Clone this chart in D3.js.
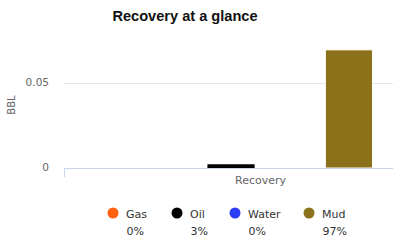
<!DOCTYPE html>
<html><head><meta charset="utf-8">
<script src="https://cdn.jsdelivr.net/npm/d3@7"></script>
<style>body{margin:0;background:#fff}svg{display:block}</style>
</head><body><svg id="c" width="393" height="243"></svg>
<script>
const categories = ["Recovery"];
const seriesNames = ["Gas", "Oil", "Water", "Mud"];
const seriesValues = [0, 0.0022, 0, 0.0695];
const seriesColors = ["#ff6010", "#000000", "#2b3cf5", "#8b7119"];
const percentLabels = ["0%", "3%", "0%", "97%"];
const yTicks = [0, 0.05];

(function () {
const svg = d3.select("#c");
const font = "'DejaVu Sans', Verdana, sans-serif";
const left = 64, right = 457, bottom = 168;

const y = d3.scaleLinear().domain([0, 0.05]).range([bottom, 83]);
const x0 = d3.scaleBand().domain(categories).range([left, right]).paddingInner(0).paddingOuter(0.333);
const x1 = d3.scaleBand().domain(seriesNames).range([0, x0.bandwidth()]).paddingInner(0.2).paddingOuter(0.1);

// title
svg.append("text").attr("x", 185).attr("y", 21).attr("text-anchor", "middle")
  .attr("font-family", "'Liberation Sans', Arial, sans-serif").attr("font-weight", "bold")
  .attr("font-size", 14.6).attr("fill", "#111").text("Recovery at a glance");

// grid
svg.append("g").selectAll("line").data(yTicks.filter(d => d > 0)).join("line")
  .attr("x1", left).attr("x2", 393).attr("y1", d => Math.round(y(d)) + 0.5).attr("y2", d => Math.round(y(d)) + 0.5)
  .attr("stroke", "#e6e6e6").attr("stroke-width", 1);

// y tick labels
svg.append("g").selectAll("text").data(yTicks).join("text")
  .attr("x", 49).attr("y", d => y(d) + 2.5).attr("text-anchor", "end")
  .attr("font-family", font).attr("font-size", 10.5).attr("fill", "#666").text(d => d === 0 ? "0" : String(d));

// y title
svg.append("text").attr("transform", "translate(15,105) rotate(-90)").attr("text-anchor", "middle")
  .attr("font-family", font).attr("font-size", 10).attr("fill", "#666").text("BBL");

// bars
const g = svg.append("g");
categories.forEach(cat => {
  g.selectAll("rect").data(seriesNames.map((s, i) => ({s, v: seriesValues[i], c: seriesColors[i]}))).join("rect")
    .attr("x", d => x0(cat) + x1(d.s)).attr("width", x1.bandwidth())
    .attr("y", d => y(d.v)).attr("height", d => bottom - y(d.v))
    .attr("fill", d => d.c).attr("stroke", "#fff").attr("stroke-width", d => d.v > 0.01 ? 1 : 0);
});

// x axis
const xAxis = d3.axisBottom(x0).tickSize(0).tickPadding(8);
const ax = svg.append("g").attr("transform", `translate(0,${bottom})`).call(xAxis);
ax.select(".domain").attr("stroke", "#ccd6eb").attr("d", `M${left},0.5H393`);
ax.selectAll("text").attr("font-family", font).attr("font-size", 11).attr("fill", "#666");
svg.append("line").attr("x1", left + 0.5).attr("x2", left + 0.5).attr("y1", bottom).attr("y2", bottom + 9)
  .attr("stroke", "#ccd6eb");

// legend
const legX = [113, 177, 235, 309];
const leg = svg.append("g");
seriesNames.forEach((s, i) => {
  leg.append("circle").attr("cx", legX[i]).attr("cy", 213).attr("r", 5.5).attr("fill", seriesColors[i]);
  leg.append("text").attr("x", legX[i] + 13).attr("y", 217.5).attr("font-family", font)
    .attr("font-size", 11).attr("fill", "#333").text(s);
  leg.append("text").attr("x", legX[i] + 13.5).attr("y", 234.5).attr("font-family", font)
    .attr("font-size", 11).attr("fill", "#333").text(percentLabels[i]);
});
})();
</script></body></html>
